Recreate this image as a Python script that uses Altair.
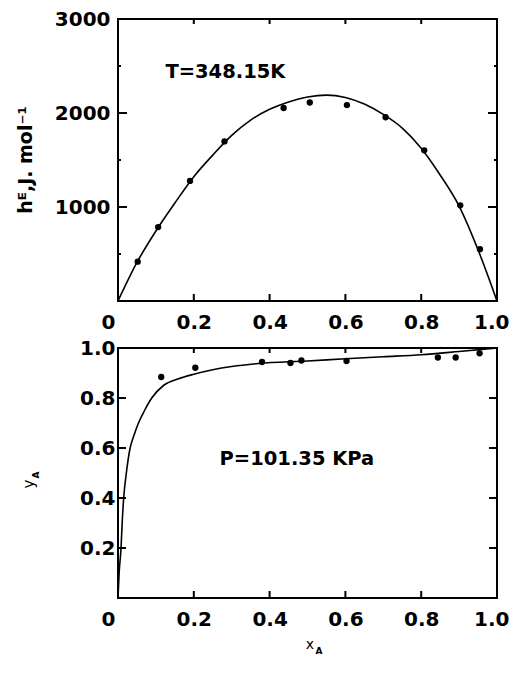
import altair as alt
import pandas as pd

# ---- top panel: excess enthalpy ----
top_curve_x = [0, 0.05, 0.1, 0.15, 0.2, 0.25, 0.3, 0.35, 0.4, 0.45, 0.5, 0.55,
               0.6, 0.65, 0.7, 0.75, 0.8, 0.85, 0.9, 0.95, 1.0]
top_curve_y = [0, 410, 745, 1042, 1322, 1552, 1762, 1925, 2040, 2118, 2170, 2190,
               2165, 2095, 1985, 1840, 1625, 1340, 1010, 545, 0]
top_pts_x = [0.052, 0.106, 0.190, 0.281, 0.437, 0.506, 0.604, 0.706, 0.808, 0.903, 0.955]
top_pts_y = [418, 786, 1277, 1698, 2053, 2112, 2084, 1955, 1603, 1018, 551]

# ---- bottom panel: vapour-liquid equilibrium ----
bot_curve_x = [0, 0.003, 0.008, 0.011, 0.015, 0.022, 0.032, 0.042, 0.054, 0.07, 0.089,
               0.12, 0.16, 0.2, 0.25, 0.3, 0.37, 0.5, 0.6, 0.7, 0.8, 0.9, 1.0]
bot_curve_y = [0, 0.1, 0.2, 0.3, 0.4, 0.5, 0.6, 0.65, 0.7, 0.75, 0.8,
               0.85, 0.877, 0.895, 0.913, 0.926, 0.938, 0.948, 0.957, 0.965, 0.973, 0.986, 1.0]
bot_pts_x = [0.114, 0.204, 0.380, 0.455, 0.484, 0.603, 0.844, 0.891, 0.954]
bot_pts_y = [0.884, 0.921, 0.944, 0.940, 0.950, 0.948, 0.962, 0.962, 0.979]

# label positions (the last one sits a little inside 1.0 so it stays on the page)
x_labels = [0, 0.2, 0.4, 0.6, 0.8, 0.985]
x_ticks = [0.2, 0.4, 0.6, 0.8]
top_y_labels = [1000, 2000, 3000]
top_y_ticks = [1000, 2000]
top_y_minor = [500, 1500, 2500]
bot_y_labels = [0.2, 0.4, 0.6, 0.8, 1.0]
bot_y_ticks = [0.2, 0.4, 0.6, 0.8]

FONT = "DejaVu Sans"
W = 379
H_TOP = 282
H_BOT = 250
TICK = 7


def axis(orient, values, padding, fmt=None, expr=None, zero_shift=False):
    kw = dict(orient=orient, values=values, ticks=False, domain=False, grid=False,
              title=None, labelFlush=False, labelFont=FONT, labelFontSize=20,
              labelFontWeight="bold", labelColor="black", labelPadding=padding)
    if fmt:
        kw["format"] = fmt
    if expr:
        kw["labelExpr"] = expr
    if zero_shift:
        kw["labelOffset"] = {"condition": {"test": "datum.value == 0", "value": -10},
                             "value": 0}
    return alt.Axis(**kw)


XEXPR = "datum.value == 0 ? '0' : format(datum.value, '.1f')"
xs = alt.Scale(domain=[0, 1], nice=False, zero=False)
AX_X = axis("bottom", x_labels, 11, expr=XEXPR, zero_shift=True)


def panel(cx, cy, px, py, yscale, ylab, yfmt, ypad, ann_text, ann_x, ann_y,
          height, yt, ylen, minor=None):
    ax_y = axis("left", ylab, ypad, fmt=yfmt)
    X = lambda f: alt.X(f, scale=xs, axis=AX_X)
    Y = lambda f: alt.Y(f, scale=yscale, axis=ax_y)
    dfc = pd.DataFrame({"x": cx, "y": cy})
    dfp = pd.DataFrame({"x": px, "y": py})
    layers = [
        alt.Chart(dfc).mark_line(color="black", strokeWidth=1.6,
                                 interpolate="monotone").encode(x=X("x:Q"), y=Y("y:Q")),
        alt.Chart(dfp).mark_circle(size=40, color="black", opacity=1).encode(
            x=X("x:Q"), y=Y("y:Q")),
        alt.Chart(pd.DataFrame({"x": [ann_x], "y": [ann_y], "t": [ann_text]})).mark_text(
            font=FONT, fontSize=19.5, fontWeight="bold", align="left", baseline="middle",
            color="black").encode(x=X("x:Q"), y=Y("y:Q"), text="t:N"),
    ]
    dx = pd.DataFrame({"x": x_ticks})
    dy = pd.DataFrame({"y": yt})
    r = dict(color="black", strokeWidth=2)
    layers += [
        alt.Chart(dx).mark_rule(**r).encode(
            x=X("x:Q"), y=alt.value(height), y2=alt.value(height - TICK)),
        alt.Chart(dx).mark_rule(**r).encode(
            x=X("x:Q"), y=alt.value(0), y2=alt.value(TICK - 2)),
        alt.Chart(dy).mark_rule(**r).encode(
            y=Y("y:Q"), x=alt.value(0), x2=alt.value(ylen)),
        alt.Chart(dy).mark_rule(**r).encode(
            y=Y("y:Q"), x=alt.value(W), x2=alt.value(W - ylen)),
    ]
    if minor:
        dm = pd.DataFrame({"y": minor})
        layers += [
            alt.Chart(dm).mark_rule(**r).encode(
                y=Y("y:Q"), x=alt.value(0), x2=alt.value(3)),
            alt.Chart(dm).mark_rule(**r).encode(
                y=Y("y:Q"), x=alt.value(W), x2=alt.value(W - 3)),
        ]
    return layers


ys_top = alt.Scale(domain=[0, 3000], nice=False, zero=False)
ys_bot = alt.Scale(domain=[0, 1], nice=False, zero=False)

top_layers = panel(top_curve_x, top_curve_y, top_pts_x, top_pts_y, ys_top, top_y_labels,
                   "d", 8, "T=348.15K", 0.125, 2432, H_TOP, top_y_ticks, 9, top_y_minor)
top_title = alt.Chart(pd.DataFrame({"t": ["hᴱ,J. mol⁻¹"]})).mark_text(
    font=FONT, fontSize=19, fontWeight="bold", angle=270, align="center",
    baseline="middle", color="black").encode(
    x=alt.value(-92), y=alt.value(H_TOP / 2), text="t:N")
top = alt.layer(*top_layers, top_title).properties(width=W, height=H_TOP)

bot_layers = panel(bot_curve_x, bot_curve_y, bot_pts_x, bot_pts_y, ys_bot, bot_y_labels,
                   ".1f", 3, "P=101.35 KPa", 0.268, 0.557, H_BOT, bot_y_ticks, 8)
y_main = alt.Chart(pd.DataFrame({"t": ["y"]})).mark_text(
    font=FONT, fontSize=15, angle=270, align="center", baseline="middle",
    color="black").encode(x=alt.value(-89), y=alt.value(136), text="t:N")
y_sub = alt.Chart(pd.DataFrame({"t": ["A"]})).mark_text(
    font=FONT, fontSize=9, fontWeight="bold", angle=270, align="center",
    baseline="middle", color="black").encode(x=alt.value(-82), y=alt.value(127), text="t:N")
x_main = alt.Chart(pd.DataFrame({"t": ["x"]})).mark_text(
    font=FONT, fontSize=14, align="center", baseline="middle",
    color="black").encode(x=alt.value(192), y=alt.value(297), text="t:N")
x_sub = alt.Chart(pd.DataFrame({"t": ["A"]})).mark_text(
    font=FONT, fontSize=9, fontWeight="bold", align="center",
    baseline="middle", color="black").encode(x=alt.value(201), y=alt.value(303), text="t:N")
bottom = alt.layer(*bot_layers, y_main, y_sub, x_main, x_sub).properties(
    width=W, height=H_BOT)

chart = alt.vconcat(top, bottom, spacing=4).properties(
    padding={"left": 8, "top": 0, "right": 0, "bottom": 0},
    background="white",
).configure_view(stroke="black", strokeWidth=2)

chart.save("out.html", embed_options={"renderer": "svg", "actions": False})
